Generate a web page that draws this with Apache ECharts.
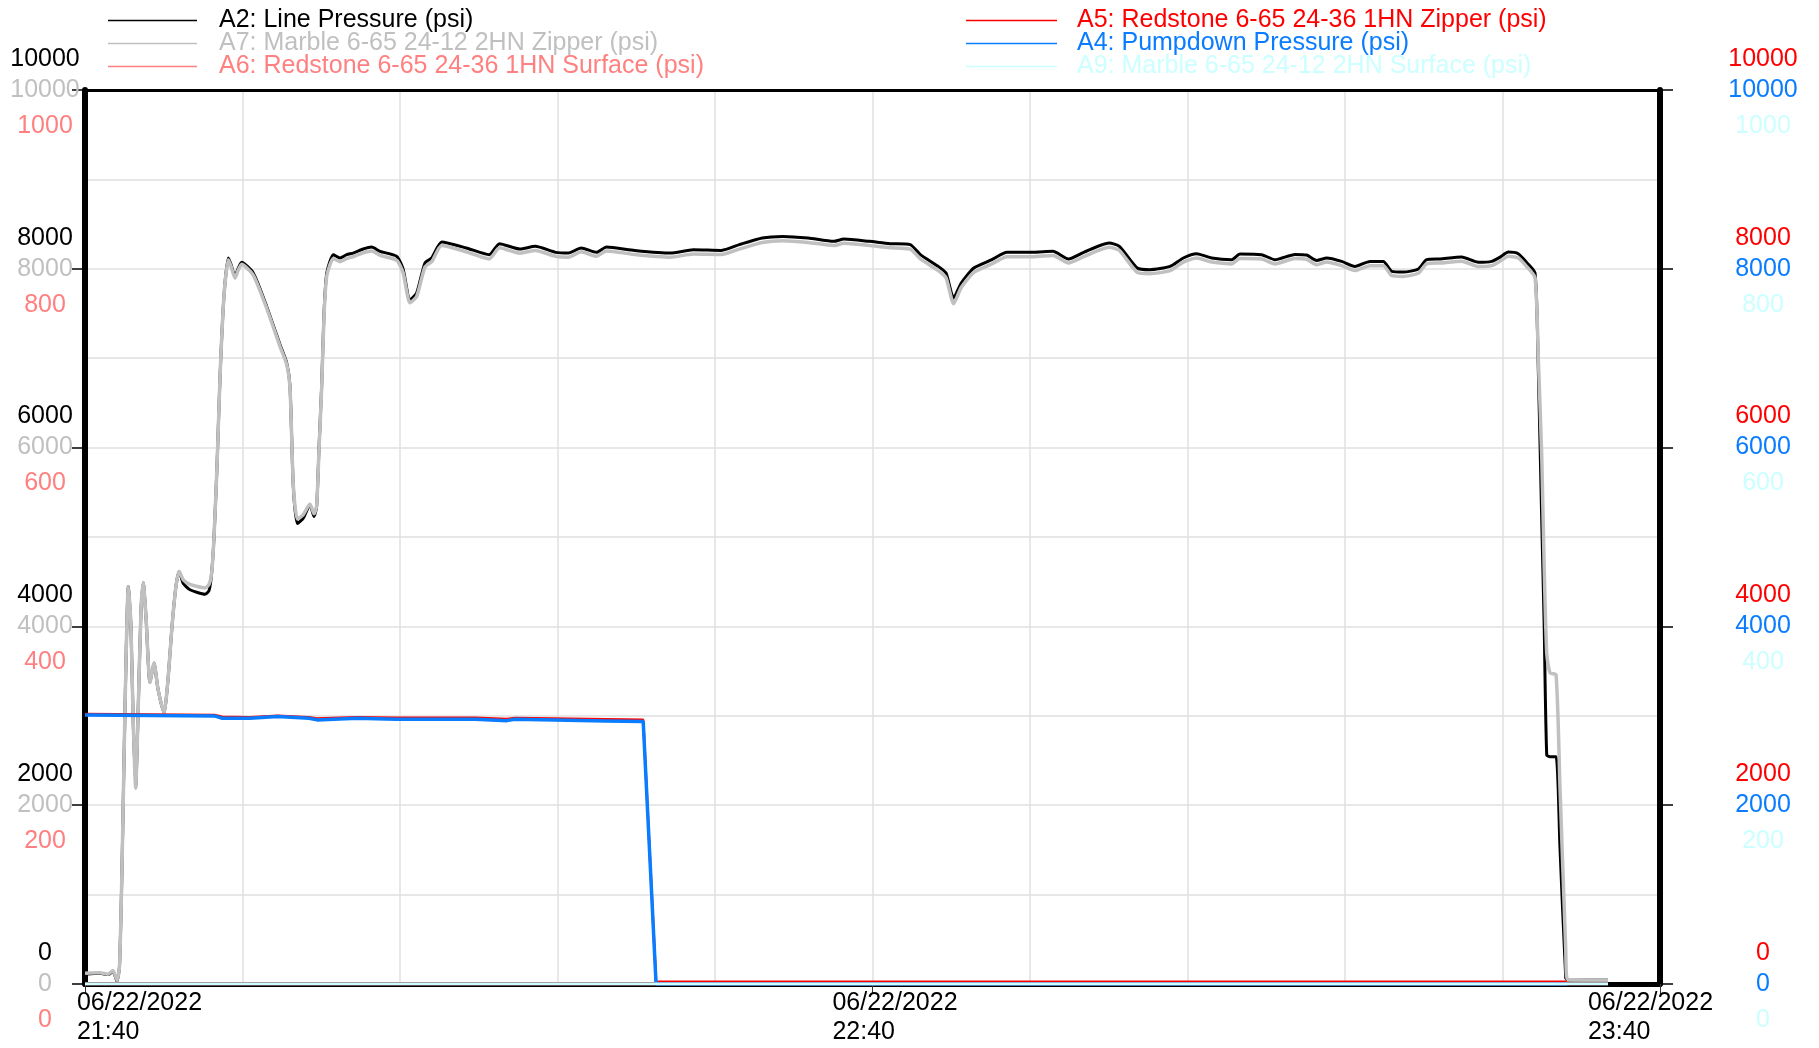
<!DOCTYPE html>
<html><head><meta charset="utf-8">
<script src="https://cdn.jsdelivr.net/npm/echarts@6/dist/echarts.min.js"></script>
<style>html,body{margin:0;padding:0;background:#fff}#c{width:1819px;height:1048px}</style>
</head><body><div id="c"></div>
<script>
// ---- names ----
const nameA2 = 'A2: Line Pressure (psi)';
const nameA7 = 'A7: Marble 6-65 24-12 2HN Zipper (psi)';
const nameA6 = 'A6: Redstone 6-65 24-36 1HN Surface (psi)';
const nameA5 = 'A5: Redstone 6-65 24-36 1HN Zipper (psi)';
const nameA4 = 'A4: Pumpdown Pressure (psi)';
const nameA9 = 'A9: Marble 6-65 24-12 2HN Surface (psi)';

// ---- x axis (minutes after 06/22/2022 21:40) ----
const xTickMinutes = [0, 60, 120];
const xTickDates = ['06/22/2022', '06/22/2022', '06/22/2022'];
const xTickTimes = ['21:40', '22:40', '23:40'];

// ---- A2 / A7 (minutes, psi) ----
const lineTimes = [0, 1.14, 1.75, 2.13, 2.44, 2.63, 2.82, 3.05, 3.30, 3.50, 3.66, 3.86, 4.04, 4.27, 4.44, 4.65, 4.95, 5.26, 5.56, 6.02, 6.32, 6.63, 6.93, 7.18, 7.49, 8.00, 9.14, 9.45, 9.65, 9.83, 10.06, 10.29, 10.59, 10.92, 11.12, 11.43, 11.66, 11.94, 12.82, 13.84, 14.86, 15.37, 15.62, 15.87, 16.18, 16.63, 17.14, 17.45, 17.65, 17.83, 18.03, 18.21, 18.42, 18.92, 19.43, 19.94, 20.44, 21.20, 21.84, 22.48, 23.75, 24.23, 24.76, 25.27, 25.90, 26.42, 27.18, 29.05, 30.80, 31.58, 33.14, 34.30, 35.86, 36.83, 37.80, 38.96, 39.74, 41.88, 44.60, 46.35, 48.49, 49.85, 51.60, 53.16, 55.10, 57.04, 57.82, 59.76, 61.32, 62.87, 63.65, 65.01, 65.60, 66.18, 66.76, 67.72, 69.09, 70.25, 72.20, 73.75, 74.93, 76.09, 78.03, 78.81, 80.17, 81.14, 82.67, 83.68, 84.70, 85.84, 87.37, 88.00, 89.65, 90.66, 92.19, 93.08, 93.84, 94.61, 95.75, 96.76, 97.90, 98.92, 99.56, 100.44, 101.58, 102.22, 103.24, 104.89, 106.16, 107.18, 107.82, 108.44, 109.20, 109.84, 110.48, 110.73, 110.99, 111.17, 111.37, 111.62, 112.08, 112.38, 112.82, 112.95, 116.04];
const a2Values = [110, 120, 105, 140, 30, 200, 1300, 3100, 4446, 4000, 3000, 2193, 3000, 4200, 4487, 4100, 3372, 3592, 3300, 3032, 3400, 4000, 4450, 4614, 4480, 4410, 4360, 4400, 4599, 5000, 5800, 6800, 7700, 8121, 8050, 7915, 8000, 8072, 7953, 7579, 7150, 6946, 6684, 5565, 5150, 5210, 5360, 5230, 5341, 6000, 6684, 7500, 7953, 8158, 8121, 8158, 8176, 8221, 8243, 8195, 8139, 8000, 7654, 7729, 8065, 8121, 8300, 8233, 8158, 8281, 8221, 8251, 8184, 8176, 8233, 8184, 8243, 8206, 8176, 8213, 8206, 8270, 8344, 8362, 8344, 8307, 8333, 8307, 8281, 8270, 8158, 8027, 7953, 7673, 7841, 8009, 8102, 8184, 8184, 8195, 8110, 8184, 8288, 8251, 8009, 7990, 8027, 8121, 8169, 8121, 8102, 8165, 8158, 8102, 8161, 8154, 8094, 8121, 8083, 8027, 8083, 8083, 7971, 7963, 7997, 8102, 8110, 8131, 8072, 8083, 8131, 8187, 8169, 8072, 7953, 6862, 5175, 4051, 2560, 2543, 2543, 1522, 69, 45, 45];
const a7Values = [120, 125, 110, 150, 40, 200, 1300, 3100, 4446, 4000, 3000, 2193, 3000, 4200, 4487, 4100, 3372, 3592, 3300, 3032, 3400, 4000, 4450, 4614, 4520, 4470, 4430, 4470, 4599, 5000, 5800, 6800, 7700, 8100, 8030, 7895, 7980, 8050, 7930, 7560, 7130, 6930, 6670, 5580, 5200, 5250, 5370, 5260, 5350, 5980, 6660, 7470, 7920, 8115, 8080, 8115, 8135, 8180, 8200, 8150, 8095, 7960, 7620, 7690, 8020, 8080, 8260, 8190, 8110, 8235, 8175, 8205, 8140, 8130, 8190, 8140, 8200, 8160, 8130, 8165, 8160, 8220, 8295, 8315, 8295, 8260, 8285, 8260, 8235, 8220, 8110, 7980, 7900, 7610, 7790, 7960, 8055, 8135, 8135, 8150, 8065, 8135, 8240, 8205, 7960, 7945, 7980, 8075, 8120, 8075, 8055, 8115, 8110, 8055, 8115, 8105, 8045, 8075, 8035, 7980, 8035, 8035, 7925, 7915, 7950, 8055, 8065, 8085, 8025, 8035, 8085, 8140, 8120, 8025, 7900, 7000, 5900, 4700, 3700, 3480, 3460, 2200, 380, 50, 45];

// ---- A5 / A4 (minutes, psi) ----
const pumpTimes = [0, 9.86, 10.46, 12.57, 14.67, 17.07, 17.68, 20.70, 23.71, 26.72, 29.74, 32.14, 32.75, 35.76, 39.67, 42.53, 42.65, 43.51, 112.9];
const a5Values = [3020, 3010, 2990, 2985, 3000, 2985, 2970, 2985, 2978, 2978, 2978, 2965, 2975, 2970, 2962, 2955, 2945, 25, 25];
const a4Values = [3010, 2999, 2973, 2973, 2991, 2973, 2954, 2973, 2962, 2962, 2962, 2946, 2962, 2954, 2943, 2935, 2928, 0, 0];

// ---- A6 / A9 surface (minutes, psi on 0-1000 scale) ----
const surfaceTimes = [0, 116.04];
const a6Values = [0, 0];
const a9Values = [0, 0];

const FONT = "'Liberation Sans', Arial, sans-serif";
const pairs = (t, v) => t.map((x, i) => [x, v[i]]);

// shift: 'up' | 'mid' | 'down' — labels of the stacked axes sit above, on or below each tick
function yAx(pos, min, max, interval, color, shift, extra) {
  const lbl = {
    color: color, fontSize: 25, fontFamily: FONT, align: 'center',
    margin: pos === 'left' ? 40 : 103,
    formatter: function (v) { return String(v); }
  };
  if (shift === 'up') { lbl.verticalAlign = 'bottom'; lbl.lineHeight = 62; }
  else if (shift === 'down') { lbl.verticalAlign = 'top'; lbl.lineHeight = 72; }
  else { lbl.verticalAlign = 'middle'; lbl.lineHeight = 26; }
  return Object.assign({
    type: 'value', position: pos, min: min, max: max, interval: interval,
    axisLine: { show: false }, axisTick: { show: false }, splitLine: { show: false },
    axisLabel: lbl
  }, extra || {});
}

const gridColor = '#e0e0e0';
const chart = echarts.init(document.getElementById('c'), null, { renderer: 'canvas' });
chart.setOption({
  animation: false,
  backgroundColor: '#fff',
  grid: { left: 85, right: 159, top: 90, bottom: 64, containLabel: false, outerBoundsMode: 'none' },
  legend: [
    {
      left: 103, top: 3, orient: 'vertical', itemGap: -2, itemWidth: 89, itemHeight: 1.5, icon: 'rect',
      selectedMode: false,
      textStyle: { fontSize: 25, lineHeight: 21, fontFamily: FONT, padding: [0, 0, 0, 17] },
      data: [
        { name: nameA2, textStyle: { color: '#000000' } },
        { name: nameA7, textStyle: { color: '#c0c0c0' } },
        { name: nameA6, textStyle: { color: '#ff8080' } }
      ]
    },
    {
      left: 961, top: 3, orient: 'vertical', itemGap: -2, itemWidth: 91, itemHeight: 1.5, icon: 'rect',
      selectedMode: false,
      textStyle: { fontSize: 25, lineHeight: 21, fontFamily: FONT, padding: [0, 0, 0, 15] },
      data: [
        { name: nameA5, textStyle: { color: '#ff0000' } },
        { name: nameA4, textStyle: { color: '#0a7cff' } },
        { name: nameA9, textStyle: { color: '#ccffff' } }
      ]
    }
  ],
  xAxis: [
    {
      type: 'value', min: 0, max: 120, interval: 60, position: 'bottom',
      axisLine: { show: true, onZero: false, lineStyle: { color: '#000', width: 5 } },
      axisTick: { show: true, customValues: xTickMinutes, length: 10, lineStyle: { color: '#333', width: 1 } },
      splitLine: { show: false },
      axisLabel: {
        customValues: xTickMinutes, margin: 5, fontSize: 25, fontFamily: FONT, color: '#000',
        align: 'center', lineHeight: 29,
        formatter: function (v) {
          const i = xTickMinutes.indexOf(v);
          if (i < 0) return '';
          const k = 'p' + i;
          return '{' + k + '|' + xTickDates[i] + '}\n{' + k + '|' + xTickTimes[i] + '}';
        },
        rich: {
          p0: { fontSize: 25, fontFamily: FONT, color: '#000', lineHeight: 29, align: 'left', padding: [0, 0, 0, 109] },
          p1: { fontSize: 25, fontFamily: FONT, color: '#000', lineHeight: 29, align: 'left', padding: [0, 0, 0, 45] },
          p2: { fontSize: 25, fontFamily: FONT, color: '#000', lineHeight: 29, align: 'left', padding: [0, 19, 0, 0] }
        }
      }
    },
    {
      type: 'value', min: 0, max: 120, interval: 12, position: 'top',
      axisLine: { show: true, onZero: false, lineStyle: { color: '#000', width: 3 } },
      axisTick: { show: false }, axisLabel: { show: false },
      splitLine: { show: true, lineStyle: { color: gridColor, width: 1.5 } }
    }
  ],
  yAxis: [
    yAx('left', 0, 10000, 2000, '#000000', 'up'),
    yAx('left', 0, 10000, 2000, '#c0c0c0', 'mid', {
      axisLine: { show: true, onZero: false, lineStyle: { color: '#000', width: 6 } },
      axisTick: { show: true, length: 13, lineStyle: { color: '#000', width: 1.5 } },
      splitLine: { show: true, lineStyle: { color: gridColor, width: 1.5 } },
      minorTick: { show: false, splitNumber: 2 },
      minorSplitLine: { show: true, lineStyle: { color: gridColor, width: 1.5 } }
    }),
    yAx('left', 0, 1000, 200, '#ff8080', 'down'),
    yAx('right', 0, 10000, 2000, '#ff0000', 'up'),
    yAx('right', 0, 10000, 2000, '#0a7cff', 'mid', {
      axisLine: { show: true, onZero: false, lineStyle: { color: '#000', width: 6 } },
      axisTick: { show: true, length: 13, lineStyle: { color: '#000', width: 1.5 } }
    }),
    yAx('right', 0, 1000, 200, '#ccffff', 'down')
  ],
  series: [
    { name: nameA6, type: 'line', xAxisIndex: 0, yAxisIndex: 2, data: pairs(surfaceTimes, a6Values), showSymbol: false, color: '#ff8080', lineStyle: { width: 3 }, z: 3 },
    { name: nameA9, type: 'line', xAxisIndex: 0, yAxisIndex: 5, data: pairs(surfaceTimes, a9Values), showSymbol: false, color: '#ccffff', lineStyle: { width: 3 }, z: 6 },
    { name: nameA2, type: 'line', xAxisIndex: 0, yAxisIndex: 0, data: pairs(lineTimes, a2Values), showSymbol: false, smooth: 0.2, color: '#000000', lineStyle: { width: 3 }, z: 2 },
    { name: nameA7, type: 'line', xAxisIndex: 0, yAxisIndex: 1, data: pairs(lineTimes, a7Values), showSymbol: false, smooth: 0.2, color: '#c0c0c0', lineStyle: { width: 3.5 }, z: 2 },
    { name: nameA5, type: 'line', xAxisIndex: 0, yAxisIndex: 3, data: pairs(pumpTimes, a5Values), showSymbol: false, color: '#ff0000', lineStyle: { width: 2.5 }, z: 4 },
    { name: nameA4, type: 'line', xAxisIndex: 0, yAxisIndex: 4, data: pairs(pumpTimes, a4Values), showSymbol: false, color: '#0a7cff', lineStyle: { width: 3.5 }, z: 5 }
  ]
});
</script>
</body></html>
